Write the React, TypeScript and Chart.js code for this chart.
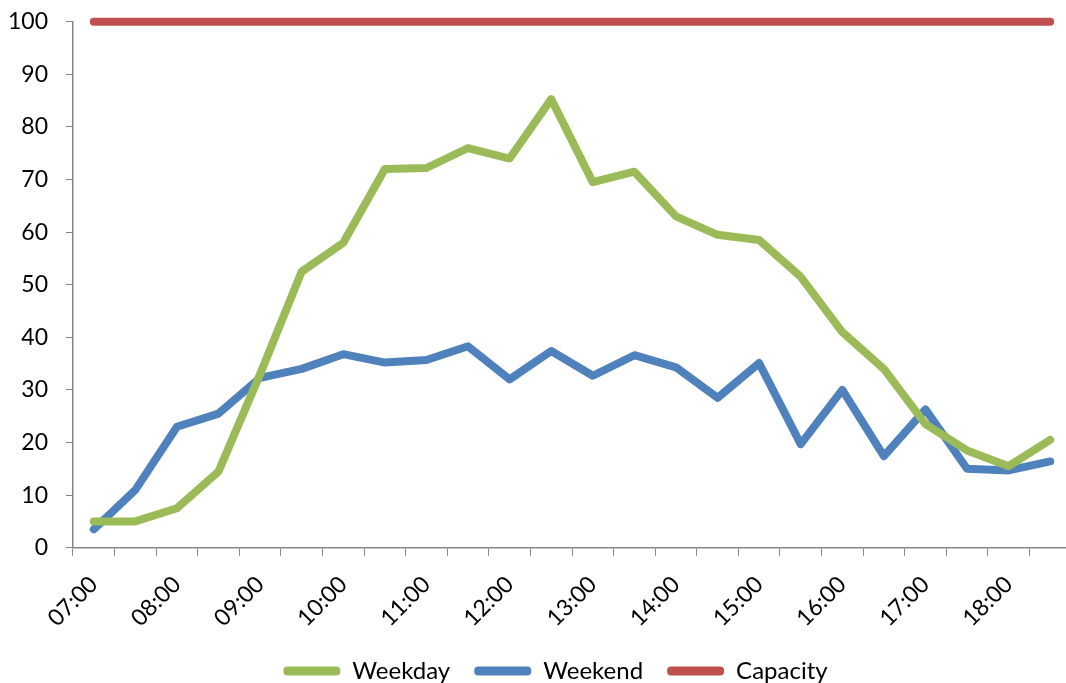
import React, { useEffect, useRef } from 'react';
import { Chart, registerables } from 'chart.js';

Chart.register(...registerables);

const times = [
  '07:00', '07:30', '08:00', '08:30', '09:00', '09:30', '10:00', '10:30',
  '11:00', '11:30', '12:00', '12:30', '13:00', '13:30', '14:00', '14:30',
  '15:00', '15:30', '16:00', '16:30', '17:00', '17:30', '18:00', '18:30',
];

const weekday = [
  5, 5, 7.5, 14.5, 33, 52.5, 58, 72, 72.2, 76, 74, 85.3,
  69.5, 71.5, 63, 59.5, 58.5, 51.5, 41, 34, 23.5, 18.5, 15.5, 20.5,
];

const weekend = [
  3.5, 11, 23, 25.5, 32.3, 34, 36.8, 35.2, 35.7, 38.3, 32, 37.4,
  32.7, 36.6, 34.3, 28.5, 35.1, 19.7, 30, 17.4, 26.3, 15, 14.7, 16.4,
];

const capacity = [
  100, 100, 100, 100, 100, 100, 100, 100, 100, 100, 100, 100,
  100, 100, 100, 100, 100, 100, 100, 100, 100, 100, 100, 100,
];

const yTicks = { min: 0, max: 100, step: 10 };

const FONT = 'Lato, "Open Sans", sans-serif';
const AXIS = '#868686';

export default function App() {
  const ref = useRef<HTMLCanvasElement | null>(null);

  useEffect(() => {
    if (!ref.current) return;
    const mk = (label: string, data: number[], color: string) => ({
      label,
      data,
      borderColor: color,
      backgroundColor: color,
      borderWidth: 8,
      pointRadius: 0,
      pointHoverRadius: 0,
      tension: 0,
      borderCapStyle: 'round' as const,
      borderJoinStyle: 'round' as const,
      fill: false,
      clip: false as const,
    });
    const chart = new Chart(ref.current, {
      type: 'line',
      data: {
        labels: times,
        datasets: [
          mk('Weekday', weekday, '#9BBB59'),
          mk('Weekend', weekend, '#4F81BD'),
          mk('Capacity', capacity, '#C0504D'),
        ],
      },
      options: {
        animation: false,
        responsive: false,
        maintainAspectRatio: false,
        layout: { padding: { left: 0, top: 0, right: 0, bottom: -10 } },
        plugins: {
          tooltip: { enabled: false },
          legend: {
            position: 'bottom',
            labels: {
              boxWidth: 57,
              boxHeight: 9,
              useBorderRadius: true,
              borderRadius: 4,
              padding: 24,
              color: '#000',
              font: { family: FONT, size: 24 },
              generateLabels: (c: any) =>
                c.data.datasets.map((d: any, i: number) => ({
                  text: d.label,
                  fillStyle: d.borderColor,
                  strokeStyle: d.borderColor,
                  lineWidth: 0,
                  hidden: false,
                  datasetIndex: i,
                  fontColor: '#000',
                  borderRadius: 4,
                })),
            },
          },
        },
        scales: {
          x: {
            type: 'category',
            offset: true,
            afterFit: (s: any) => {
              s.height -= 12;
            },
            grid: {
              display: true,
              offset: true,
              drawOnChartArea: false,
              drawTicks: true,
              tickLength: 8,
              color: AXIS,
            },
            border: { display: true, color: AXIS, width: 1.5 },
            ticks: {
              autoSkip: false,
              maxRotation: 45,
              minRotation: 45,
              color: '#000',
              padding: 15,
              font: { family: FONT, size: 23 },
              callback: (_v: any, i: number) => (i % 2 === 0 ? times[i] : ''),
            },
          },
          y: {
            min: yTicks.min,
            max: yTicks.max,
            afterFit: (s: any) => {
              s.width = 73;
            },
            grid: {
              display: true,
              drawOnChartArea: false,
              drawTicks: true,
              tickLength: 7,
              color: AXIS,
            },
            border: { display: true, color: AXIS, width: 1.5 },
            ticks: {
              stepSize: yTicks.step,
              color: '#000',
              padding: 18,
              font: { family: FONT, size: 23 },
            },
          },
          yRightSpace: {
            type: 'linear',
            position: 'right',
            display: true,
            afterFit: (s: any) => {
              s.width = 40;
            },
            grid: { display: false },
            border: { display: false },
            ticks: { display: false },
          },
        },
      },
    });
    return () => chart.destroy();
  }, []);

  return (
    <div style={{ position: 'fixed', left: 0, top: 0, width: 1066, height: 683, overflow: 'hidden', background: '#fff' }}>
      <canvas
        ref={ref}
        width={1111}
        height={693}
        style={{ position: 'absolute', left: 0, top: -10, width: 1111, height: 693, display: 'block' }}
      />
    </div>
  );
}
